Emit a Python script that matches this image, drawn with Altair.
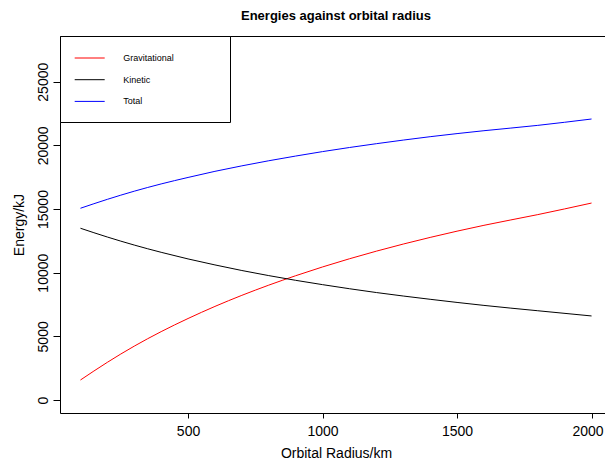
import altair as alt
import pandas as pd

radius = [100, 200, 300, 400, 500, 600, 700, 800, 900, 1000, 1200, 1400, 1600, 1800, 2000]
gravitational = [1570, 2960, 4230, 5370, 6400, 7350, 8220, 9020, 9760, 10450, 11690, 12770, 13720, 14560, 15470]
kinetic = [13490, 12800, 12170, 11600, 11080, 10610, 10170, 9770, 9400, 9060, 8440, 7910, 7430, 7010, 6600]
total = [15060, 15760, 16400, 16970, 17480, 17960, 18390, 18790, 19160, 19510, 20130, 20680, 21150, 21570, 22070]

series_names = ["Gravitational", "Kinetic", "Total"]
series_colors = ["red", "black", "blue"]
x_ticks = [500, 1000, 1500, 2000]
y_ticks = [0, 5000, 10000, 15000, 20000, 25000]

rows = []
for name, vals in zip(series_names, [gravitational, kinetic, total]):
    for r, v in zip(radius, vals):
        rows.append({"radius": r, "energy": v, "series": name})
df = pd.DataFrame(rows)

FONT = "Liberation Sans"
BLANK = "\u2800"

chart = alt.Chart(df).mark_line(strokeWidth=1, interpolate="monotone").encode(
    x=alt.X("radius:Q",
            scale=alt.Scale(domain=[24, 2076], nice=False, zero=False),
            axis=alt.Axis(title="Orbital Radius/km", values=x_ticks, grid=False,
                          format="d", domain=False, tickSize=5, tickColor="black",
                          labelFontSize=14, labelColor="black", labelPadding=6,
                          labelFont=FONT, titleFont=FONT, titleFontSize=14,
                          titleFontWeight="normal", titleColor="black",
                          titlePadding=8, labelFlush=False,
                          labelOffset={"condition": {"test": "datum.value >= 2000", "value": -4},
                                       "value": 0})),
    y=alt.Y("energy:Q",
            scale=alt.Scale(domain=[-1021, 28589], nice=False, zero=False),
            axis=alt.Axis(title="Energy/kJ", values=y_ticks, grid=False,
                          format="d", domain=False, tickSize=7, tickColor="black",
                          labelAngle=270, labelFontSize=14, labelColor="black",
                          labelPadding=3, labelFont=FONT, titleFont=FONT,
                          titleFontSize=14, titleFontWeight="normal",
                          titleColor="black", titlePadding=10, labelFlush=False)),
    color=alt.Color("series:N",
                    scale=alt.Scale(domain=series_names, range=series_colors),
                    legend=alt.Legend(
                        title=BLANK, titleOrient="bottom", titleFontSize=6,
                        titlePadding=3, titleFont=FONT,
                        orient="none", legendX=0, legendY=0,
                        symbolType="stroke", symbolSize=900, symbolStrokeWidth=1,
                        symbolOffset=7.7, labelOffset=18,
                        labelFontSize=9, labelFont=FONT, labelColor="black",
                        padding=6.5, rowPadding=0.7,
                        fillColor="white", strokeColor="black",
                        labelExpr="datum.label + '" + BLANK * 7 + "'",
                        labelLimit=400)),
).properties(
    width=552,
    height=377,
    title=alt.TitleParams("Energies against orbital radius", fontSize=13,
                          font=FONT, fontWeight="bold", color="black", offset=12.5),
    autosize=alt.AutoSizeParams(type="none"),
    padding={"left": 52, "top": 28, "right": -7, "bottom": 48},
).configure_view(stroke="black", strokeWidth=1)

chart.save("out.html", embed_options={"renderer": "svg", "actions": False})
